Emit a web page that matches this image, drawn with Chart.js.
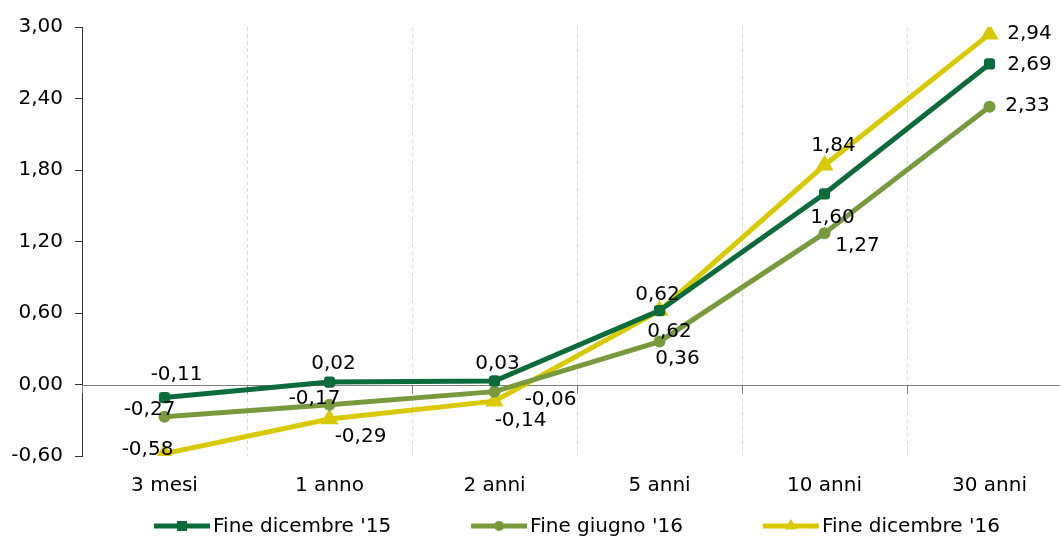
<!DOCTYPE html>
<html lang="it">
<head>
<meta charset="utf-8">
<title>Curva dei rendimenti</title>
<script src="https://cdn.jsdelivr.net/npm/chart.js@4.4.1/dist/chart.umd.min.js"></script>
<style>
  html, body { margin: 0; padding: 0; background: #ffffff; overflow: hidden; }
  #wrap { position: relative; width: 1100px; height: 536px; }
</style>
</head>
<body>
<div id="wrap"><canvas id="chart"></canvas></div>
<script>
// Scadenze
const categories = ['3 mesi', '1 anno', '2 anni', '5 anni', '10 anni', '30 anni'];

// Rendimenti (%)
const fineDicembre15 = [-0.11, 0.02, 0.03, 0.62, 1.60, 2.69];
const fineGiugno16   = [-0.27, -0.17, -0.06, 0.36, 1.27, 2.33];
const fineDicembre16 = [-0.58, -0.29, -0.14, 0.62, 1.84, 2.94];

const seriesNames = ["Fine dicembre '15", "Fine giugno '16", "Fine dicembre '16"];

// Asse verticale
const yTicks = [-0.60, 0.00, 0.60, 1.20, 1.80, 2.40, 3.00];

// Spostamento delle etichette rispetto al punto [dx, dy]
const labelOffsets = [
  [[12, -24], [4, -19], [3, -18], [-2, -17], [8, 23], [40, 0]],
  [[-15, -8], [-15, -7], [56, 7], [18, 16], [33, 12], [38, -2]],
  [[-17, -5], [31, 17], [26, 19], [10, 20], [9, -20], [40, -1]]
];

const COLORS = ['#0b6b3b', '#789a3d', '#d9c900'];
const FONT = '"DejaVu Sans", sans-serif';
const TEXT = '#000';
const fmt = v => v.toFixed(2).replace('.', ',').replace('-0,00', '0,00');

// Etichette dei valori
const valueLabels = {
  id: 'valueLabels',
  afterDatasetsDraw(chart) {
    const ctx = chart.ctx;
    ctx.save();
    ctx.font = '20px ' + FONT;
    ctx.fillStyle = TEXT;
    ctx.textAlign = 'center';
    ctx.textBaseline = 'middle';
    chart.data.datasets.forEach((ds, di) => {
      const meta = chart.getDatasetMeta(di);
      meta.data.forEach((pt, i) => {
        const off = labelOffsets[di][i];
        ctx.fillText(fmt(ds.data[i]), pt.x + off[0], pt.y + off[1] + 1);
      });
    });
    ctx.restore();
  }
};

// Linea dello zero con le tacche tra le categorie
const zeroTicks = {
  id: 'zeroTicks',
  beforeDatasetsDraw(chart) {
    const { ctx, scales: { x, y }, chartArea } = chart;
    const y0 = Math.round(y.getPixelForValue(0)) + 0.5;
    ctx.save();
    ctx.strokeStyle = '#7f7f7f';
    ctx.lineWidth = 1;
    ctx.beginPath();
    ctx.moveTo(chartArea.left, y0);
    ctx.lineTo(chartArea.right, y0);
    for (let i = 0; i <= categories.length; i++) {
      const px = Math.round(x.getPixelForValue(i - 0.5)) + 0.5;
      ctx.moveTo(px, y0);
      ctx.lineTo(px, y0 + 8);
    }
    ctx.stroke();
    ctx.restore();
  }
};

// Legenda: linea con marcatore e nome della serie
const lineLegend = {
  id: 'lineLegend',
  afterDraw(chart) {
    const { ctx, chartArea } = chart;
    const lineLen = 56, textGap = 3, itemGap = 80, yMid = 526;
    ctx.save();
    ctx.font = '20px ' + FONT;
    const widths = seriesNames.map(n => ctx.measureText(n).width);
    const total = widths.reduce((a, b) => a + b, 0) + seriesNames.length * (lineLen + textGap) + itemGap * (seriesNames.length - 1);
    let x = (chartArea.left + chartArea.right) / 2 - total / 2;
    chart.data.datasets.forEach((ds, i) => {
      ctx.strokeStyle = ds.borderColor;
      ctx.lineWidth = 5;
      ctx.lineCap = 'butt';
      ctx.beginPath();
      ctx.moveTo(x, yMid);
      ctx.lineTo(x + lineLen, yMid);
      ctx.stroke();
      const cx = x + lineLen / 2;
      const style = ds.pointStyle;
      const r = style === 'triangle' ? 7 : 5;
      ctx.fillStyle = ds.borderColor;
      ctx.beginPath();
      if (style === 'circle') {
        ctx.arc(cx, yMid, r, 0, Math.PI * 2);
      } else if (style === 'triangle') {
        ctx.moveTo(cx, yMid - r);
        ctx.lineTo(cx + r * 0.87, yMid + r * 0.5);
        ctx.lineTo(cx - r * 0.87, yMid + r * 0.5);
        ctx.closePath();
      } else {
        ctx.rect(cx - r, yMid - r, 2 * r, 2 * r);
      }
      ctx.fill();
      ctx.fillStyle = TEXT;
      ctx.textAlign = 'left';
      ctx.textBaseline = 'middle';
      ctx.fillText(seriesNames[i], x + lineLen + textGap, yMid + 1);
      x += lineLen + textGap + widths[i] + itemGap;
    });
    ctx.restore();
  }
};

const mkSet = (label, data, color, style, radius) => ({
  label, data,
  borderColor: color,
  backgroundColor: color,
  borderWidth: 5,
  tension: 0,
  pointStyle: style,
  pointRadius: radius,
  pointHoverRadius: radius,
  pointBorderWidth: 0,
  pointBackgroundColor: color
});

new Chart(document.getElementById('chart'), {
  type: 'line',
  data: {
    labels: categories,
    datasets: [
      mkSet(seriesNames[0], fineDicembre15, COLORS[0], 'rectRounded', 6.5),
      mkSet(seriesNames[1], fineGiugno16, COLORS[1], 'circle', 6),
      mkSet(seriesNames[2], fineDicembre16, COLORS[2], 'triangle', 10.5)
    ]
  },
  options: {
    responsive: true,
    maintainAspectRatio: false,
    animation: false,
    events: [],
    layout: { padding: { top: 27, right: 28, bottom: 0, left: 0 } },
    plugins: {
      legend: { display: false },
      tooltip: { enabled: false }
    },
    scales: {
      x: {
        offset: true,
        grid: {
          offset: true,
          color: '#d9d9d9',
          lineWidth: 1,
          drawTicks: false
        },
        border: { display: false, dash: [4, 3] },
        ticks: {
          color: TEXT,
          font: { family: FONT, size: 20 },
          padding: 18,
          maxRotation: 0
        },
        afterFit(scale) { scale.height = 80; }
      },
      y: {
        min: -0.6,
        max: 3.0,
        afterBuildTicks(scale) { scale.ticks = yTicks.map(v => ({ value: v })); },
        grid: {
          color: 'rgba(0,0,0,0)',
          tickColor: '#333',
          tickLength: 7,
          drawTicks: true
        },
        border: { display: true, color: '#333', width: 1 },
        ticks: {
          color: TEXT,
          font: { family: FONT, size: 20 },
          padding: 12,
          callback: v => fmt(v)
        },
        afterFit(scale) { scale.width = 82; }
      }
    }
  },
  plugins: [zeroTicks, valueLabels, lineLegend]
});
</script>
</body>
</html>
